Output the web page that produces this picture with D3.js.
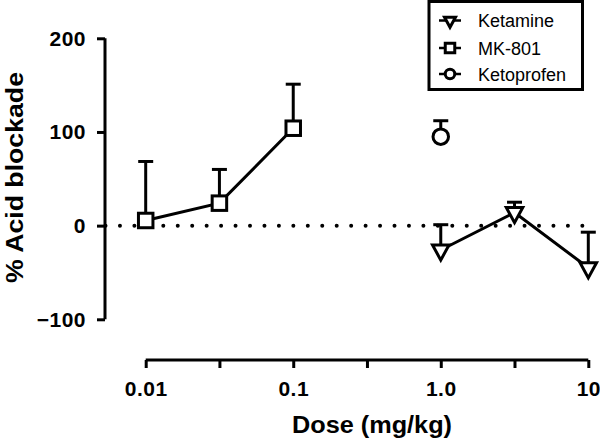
<!DOCTYPE html>
<html><head><meta charset="utf-8">
<script src="https://cdn.jsdelivr.net/npm/d3@7"></script>
<style>body{margin:0;background:#fff}svg{display:block}</style>
</head><body>
<script>
const seriesNames = ["Ketamine", "MK-801", "Ketoprofen"];
const ketamineDose = [1.0, 3.162, 10];
const ketamineMean = [-26, 14, -45];
const ketamineErr = [27, 11, 38];
const mk801Dose = [0.01, 0.0316, 0.1];
const mk801Mean = [5.5, 24, 104];
const mk801Err = [63, 36, 47];
const ketoprofenDose = [1.0];
const ketoprofenMean = [95];
const ketoprofenErr = [17];
const xTickValues = [0.01, 0.0316, 0.1, 0.316, 1, 3.16, 10];
const xTickLabels = ["0.01", "", "0.1", "", "1.0", "", "10"];
const yTickValues = [-100, 0, 100, 200];
const yTickLabels = ["\u2212100", "0", "100", "200"];

const W = 600, H = 440;
const svg = d3.select("body").append("svg").attr("width", W).attr("height", H);
const x = d3.scaleLog().domain([0.01, 10]).range([145.7, 588.3]);
const y = d3.scaleLinear().domain([-100, 200]).range([319.3, 38.3]);
const font = "'Liberation Sans', Arial, sans-serif";

// axes
const xAxis = d3.axisBottom(x).tickValues(xTickValues)
  .tickFormat((d, i) => xTickLabels[i]).tickSize(8).tickSizeOuter(0);
const gx = svg.append("g").attr("transform", "translate(0,360)").call(xAxis);
gx.select(".domain").attr("stroke", "#000").attr("stroke-width", 3)
  .attr("d", `M${x(0.01)},0H${x(10)}`);
gx.selectAll(".tick line").attr("stroke-width", 3);
gx.selectAll(".tick text").attr("font-family", font).attr("font-weight", "bold")
  .attr("font-size", 21).attr("letter-spacing", 0.5).attr("fill", "#000")
  .attr("y", 36).attr("dy", 0);

const yAxis = d3.axisLeft(y).tickValues(yTickValues)
  .tickFormat((d, i) => yTickLabels[i]).tickSize(8).tickSizeOuter(0);
const gy = svg.append("g").attr("transform", "translate(105,0)").call(yAxis);
gy.select(".domain").attr("stroke", "#000").attr("stroke-width", 3)
  .attr("d", `M0,${y(-100)}V${y(200)}`);
gy.selectAll(".tick line").attr("stroke-width", 3);
gy.selectAll(".tick text").attr("font-family", font).attr("font-weight", "bold")
  .attr("font-size", 21).attr("letter-spacing", 0.5).attr("fill", "#000").attr("x", -19);

svg.append("text").attr("x", 372).attr("y", 433).attr("text-anchor", "middle")
  .attr("font-family", font).attr("font-weight", "bold").attr("font-size", 23)
  .attr("textLength", 160).attr("lengthAdjust", "spacingAndGlyphs")
  .text("Dose (mg/kg)");
svg.append("text").attr("transform", `translate(23,177.5) rotate(-90)`)
  .attr("text-anchor", "middle").attr("font-family", font).attr("font-weight", "bold")
  .attr("font-size", 23).attr("textLength", 211).attr("lengthAdjust", "spacingAndGlyphs")
  .text("% Acid blockade");

// zero dotted line
svg.append("line").attr("x1", 105.5).attr("x2", 588).attr("y1", y(0)).attr("y2", y(0))
  .attr("stroke", "#000").attr("stroke-width", 4).attr("stroke-linecap", "round")
  .attr("stroke-dasharray", "0 14.45");

const SW = 3;
function marker(g, type, cx, cy, s) {
  if (type === "square") {
    g.append("rect").attr("x", cx - s / 2).attr("y", cy - s / 2).attr("width", s).attr("height", s)
      .attr("fill", "#fff").attr("stroke", "#000").attr("stroke-width", SW);
  } else if (type === "circle") {
    g.append("circle").attr("cx", cx).attr("cy", cy).attr("r", s / 2)
      .attr("fill", "#fff").attr("stroke", "#000").attr("stroke-width", SW);
  } else {
    const h = s * 0.92;
    g.append("path").attr("d", `M${cx - s / 2},${cy - h / 3}L${cx + s / 2},${cy - h / 3}L${cx},${cy + 2 * h / 3}Z`)
      .attr("fill", "#fff").attr("stroke", "#000").attr("stroke-width", SW).attr("stroke-linejoin", "miter");
  }
}

function drawSeries(dose, mean, err, type, size, connect) {
  const g = svg.append("g");
  dose.forEach((d, i) => {
    const cx = x(d), top = y(mean[i] + err[i]);
    g.append("line").attr("x1", cx).attr("x2", cx).attr("y1", y(mean[i])).attr("y2", top)
      .attr("stroke", "#000").attr("stroke-width", SW);
    g.append("line").attr("x1", cx - 7.5).attr("x2", cx + 7.5).attr("y1", top).attr("y2", top)
      .attr("stroke", "#000").attr("stroke-width", SW);
  });
  if (connect) {
    g.append("path").datum(dose.map((d, i) => [x(d), y(mean[i])]))
      .attr("d", d3.line()).attr("fill", "none").attr("stroke", "#000").attr("stroke-width", SW);
  }
  dose.forEach((d, i) => marker(g, type, x(d), y(mean[i]), size));
}
drawSeries(mk801Dose, mk801Mean, mk801Err, "square", 14.5, true);
drawSeries(ketoprofenDose, ketoprofenMean, ketoprofenErr, "circle", 15.5, false);
drawSeries(ketamineDose, ketamineMean, ketamineErr, "triangle", 16.5, true);

// legend
const lg = svg.append("g");
lg.append("rect").attr("x", 429).attr("y", 1.5).attr("width", 153.5).attr("height", 88)
  .attr("fill", "#fff").attr("stroke", "#000").attr("stroke-width", 3);
const types = ["triangle", "square", "circle"];
const ly = [20.5, 48, 74];
seriesNames.forEach((n, i) => {
  lg.append("line").attr("x1", 439).attr("x2", 461).attr("y1", ly[i]).attr("y2", ly[i])
    .attr("stroke", "#000").attr("stroke-width", 2.5);
  marker(lg, types[i], 450, ly[i], types[i] === "triangle" ? 11 : 9.5);
  lg.append("text").attr("x", 478).attr("y", ly[i] + 6.5).attr("font-family", font)
    .attr("font-size", 18).text(n);
});
</script>
</body></html>
